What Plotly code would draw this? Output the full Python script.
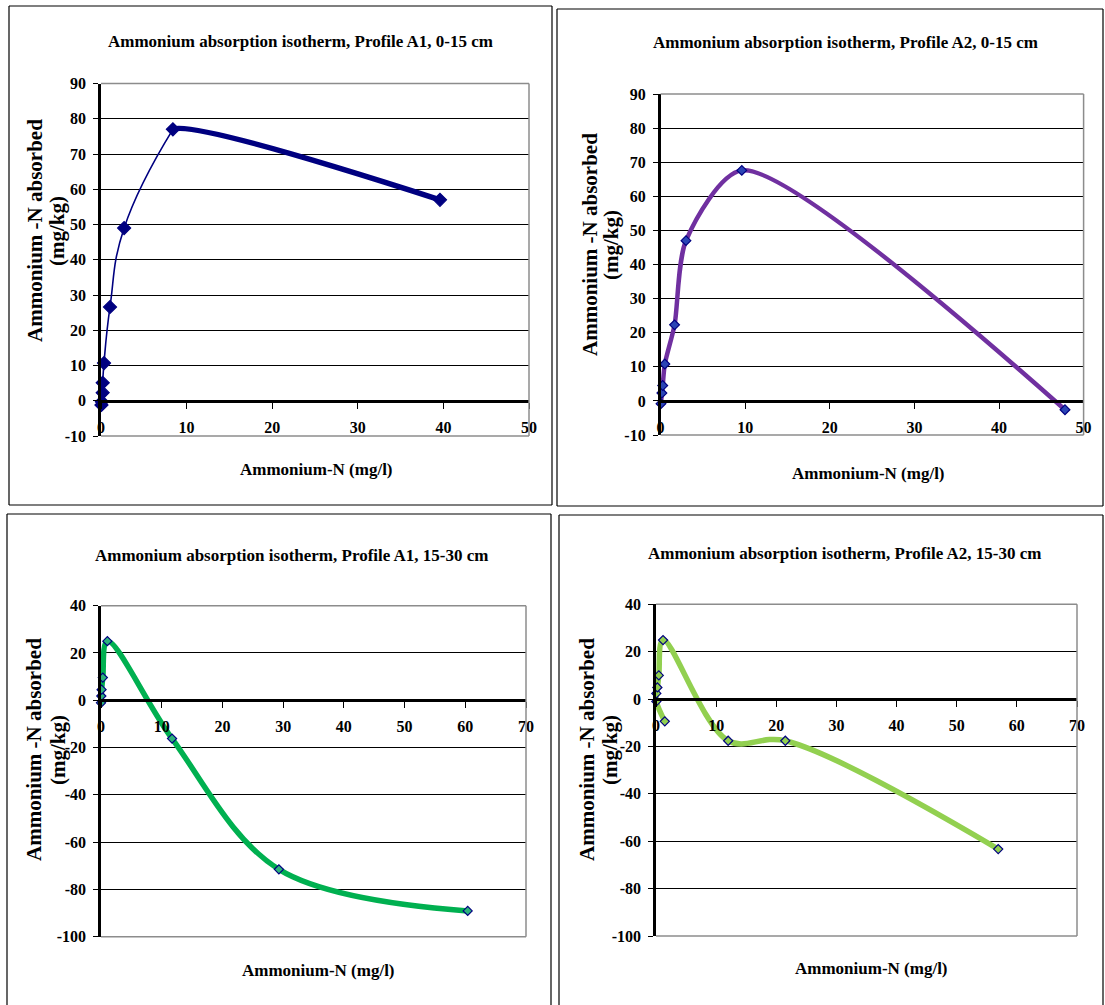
import plotly.graph_objects as go

# ---------------- data ----------------
a1_top_x = [0.05, 0.1, 0.2, 0.2, 0.35, 1.05, 2.7, 8.4, 39.6]
a1_top_y = [-1.2, -0.3, 2.3, 5.1, 10.7, 26.6, 49.0, 77.0, 57.0]

a2_top_x = [0.05, 0.15, 0.25, 0.5, 1.65, 3.0, 9.6, 47.8]
a2_top_y = [-0.8, 2.3, 4.5, 10.8, 22.3, 47.0, 67.6, -2.6]

a1_sub_x = [0.0, 0.05, 0.1, 0.3, 1.05, 11.7, 29.3, 60.4]
a1_sub_y = [-1.1, 1.8, 4.5, 9.6, 25.0, -16.2, -71.5, -89.1]

a2_sub_x = [1.46, 0.06, 0.06, 0.23, 0.47, 1.17, 12.0, 21.5, 56.9]
a2_sub_y = [-9.4, -1.0, 2.4, 4.9, 10.0, 24.9, -17.6, -17.6, -63.3]

titles = [
    "Ammonium absorption isotherm, Profile A1, 0-15 cm",
    "Ammonium absorption isotherm, Profile A2, 0-15 cm",
    "Ammonium absorption isotherm, Profile A1, 15-30 cm",
    "Ammonium absorption isotherm, Profile A2, 15-30 cm",
]
x_title = "Ammonium-N (mg/l)"
y_title_1 = "Ammonium -N absorbed"
y_title_2 = "(mg/kg)"

x_ticks_50 = [0, 10, 20, 30, 40, 50]
x_ticks_70 = [0, 10, 20, 30, 40, 50, 60, 70]
y_ticks_top = [-10, 0, 10, 20, 30, 40, 50, 60, 70, 80, 90]
y_ticks_sub = [-100, -80, -60, -40, -20, 0, 20, 40]

# ---------------- layout helpers ----------------
W, H = 1105, 1005
FONT = "Liberation Serif, Times New Roman, serif"


def px(x):
    return x / W


def py(y):
    return 1 - y / H


panels = [
    dict(x=a1_top_x, y=a1_top_y, split=7, line="#000080", mfill="#000080", mline="#000080",
         msize=10, lw=1.6, lw2=5.5, sm=1.3, sm2=0.4,
         L=101, R=529, T=83.5, B=436, xr=[0, 50], yr=[-10, 90], xt_vals=x_ticks_50, yt_vals=y_ticks_top,
         title=(300, 42), xt=(316, 469), yt1=(35, 231), yt2=(57, 231)),
    dict(x=a2_top_x, y=a2_top_y, split=None, line="#7030A0", mfill="#2B45B5", mline="#000080",
         msize=7.5, lw=4.5, sm=0.75,
         L=660.6, R=1083.6, T=94, B=435, xr=[0, 50], yr=[-10, 90], xt_vals=x_ticks_50, yt_vals=y_ticks_top,
         title=(846, 43), xt=(868, 473), yt1=(590, 245), yt2=(611, 245)),
    dict(x=a1_sub_x, y=a1_sub_y, split=None, line="#00B050", mfill="#2DB37A", mline="#000080",
         msize=7, lw=5.5, sm=1.0,
         L=101, R=526, T=605.7, B=936.7, xr=[0, 70], yr=[-100, 40], xt_vals=x_ticks_70, yt_vals=y_ticks_sub,
         title=(292, 555), xt=(319, 970), yt1=(34, 750), yt2=(58, 750)),
    dict(x=a2_sub_x, y=a2_sub_y, split=None, line="#92D050", mfill="#92D050", mline="#000080",
         msize=7, lw=5.5, sm=1.0,
         L=656, R=1077, T=604.3, B=936, xr=[0, 70], yr=[-100, 40], xt_vals=x_ticks_70, yt_vals=y_ticks_sub,
         title=(845, 553), xt=(871, 968), yt1=(587, 750), yt2=(610, 750)),
]

# panel frames as line segments (x0, y0, x1, y1) in pixels
frame_lines = [
    (9, 6, 552, 6), (9, 6, 9, 505), (552, 6, 552, 505), (9, 505, 552, 505),
    (557, 9, 1103, 9), (557, 9, 557, 506), (1103, 9, 1103, 506), (557, 506, 1103, 506),
    (7, 514, 551, 514), (7, 514, 7, 1005), (551, 514, 551, 1005),
    (559, 515, 1103, 515), (559, 515, 559, 1005), (1103, 515, 1103, 1005),
]

fig = go.Figure()
layout = dict(
    width=W, height=H, margin=dict(l=0, r=0, t=0, b=0, pad=0, autoexpand=False),
    paper_bgcolor="white", plot_bgcolor="rgba(0,0,0,0)", showlegend=False,
    font=dict(family=FONT, color="black"),
)
shapes = []
annotations = []

tickfont = dict(family=FONT, size=16, color="black", weight="bold")


def marker_trace(xs, ys, p, xa, ya):
    return go.Scatter(x=xs, y=ys, mode="markers",
                      marker=dict(symbol="diamond", size=p["msize"], color=p["mfill"],
                                  line=dict(color=p["mline"], width=1.2)),
                      xaxis=xa, yaxis=ya, cliponaxis=False, hoverinfo="skip")


n_extra = len(panels)
for i, p in enumerate(panels, start=1):
    xname = "x" if i == 1 else f"x{i}"
    yname = "y" if i == 1 else f"y{i}"
    xkey = "xaxis" if i == 1 else f"xaxis{i}"
    ykey = "yaxis" if i == 1 else f"yaxis{i}"

    yd0, yd1 = py(p["B"]), py(p["T"])
    ymin, ymax = p["yr"]
    zero_pos = yd0 + (0 - ymin) / (ymax - ymin) * (yd1 - yd0)

    layout[xkey] = dict(
        domain=[px(p["L"]), px(p["R"])], range=p["xr"], anchor="free", position=zero_pos,
        showline=True, linecolor="black", linewidth=2.5,
        ticks="outside", ticklen=6, tickwidth=1, tickcolor="black",
        tickvals=p["xt_vals"], ticktext=[str(v) for v in p["xt_vals"]],
        showgrid=False, zeroline=False, automargin=False,
        tickfont=tickfont, ticklabelstandoff=5, fixedrange=True,
    )
    layout[ykey] = dict(
        domain=[yd0, yd1], range=p["yr"], anchor=xname,
        showline=True, linecolor="black", linewidth=2.5,
        ticks="outside", ticklen=5, tickwidth=1, tickcolor="black",
        tickvals=p["yt_vals"], ticktext=[str(v) for v in p["yt_vals"]],
        showgrid=True, gridcolor="black", gridwidth=1, automargin=False,
        zeroline=False, tickfont=tickfont, ticklabelstandoff=4, fixedrange=True,
    )

    if p["split"] is not None:
        s = p["split"]
        # thin part
        fig.add_trace(go.Scatter(x=p["x"][: s + 1], y=p["y"][: s + 1], mode="lines",
                                 line=dict(color=p["line"], width=p["lw"], shape="spline", smoothing=p["sm"]),
                                 xaxis=xname, yaxis=yname, hoverinfo="skip"))
        fig.add_trace(marker_trace(p["x"][:s], p["y"][:s], p, xname, yname))
        # thick part: helper subplot with the same scale, clipped at the split point
        n_extra += 1
        hx, hy = f"x{n_extra}", f"y{n_extra}"
        xmin, xmax = p["xr"]
        split_px = p["L"] + (p["x"][s] - xmin) / (xmax - xmin) * (p["R"] - p["L"])
        layout[f"xaxis{n_extra}"] = dict(domain=[px(split_px), px(p["R"])], range=[p["x"][s], xmax],
                                         anchor=hy, visible=False, fixedrange=True, automargin=False)
        layout[f"yaxis{n_extra}"] = dict(domain=[yd0, yd1], range=p["yr"], anchor=hx,
                                         visible=False, fixedrange=True, automargin=False)
        fig.add_trace(go.Scatter(x=p["x"][s - 1:], y=p["y"][s - 1:], mode="lines",
                                 line=dict(color=p["line"], width=p["lw2"], shape="spline", smoothing=p["sm2"]),
                                 xaxis=hx, yaxis=hy, hoverinfo="skip"))
        fig.add_trace(marker_trace(p["x"][s:], p["y"][s:], p, hx, hy))
    else:
        fig.add_trace(go.Scatter(x=p["x"], y=p["y"], mode="lines",
                                 line=dict(color=p["line"], width=p["lw"], shape="spline", smoothing=p["sm"]),
                                 xaxis=xname, yaxis=yname, hoverinfo="skip"))
        fig.add_trace(marker_trace(p["x"], p["y"], p, xname, yname))

    # grey plot-area border (top, right, bottom)
    for (x0, y0, x1, y1) in [(0, 1, 1, 1), (1, 0, 1, 1), (0, 0, 1, 0)]:
        shapes.append(dict(type="line", xref=f"{xname} domain", yref=f"{yname} domain",
                           x0=x0, y0=y0, x1=x1, y1=y1, line=dict(color="#8c8c8c", width=1.5),
                           layer="above"))

    # texts
    annotations.append(dict(text=titles[i - 1], xref="paper", yref="paper",
                            x=px(p["title"][0]), y=py(p["title"][1]), xanchor="center", yanchor="middle",
                            showarrow=False, font=dict(family=FONT, size=17, color="black", weight="bold")))
    annotations.append(dict(text=x_title, xref="paper", yref="paper",
                            x=px(p["xt"][0]), y=py(p["xt"][1]), xanchor="center", yanchor="middle",
                            showarrow=False, font=dict(family=FONT, size=17, color="black", weight="bold")))
    annotations.append(dict(text=y_title_1, xref="paper", yref="paper", textangle=-90,
                            x=px(p["yt1"][0]), y=py(p["yt1"][1]), xanchor="center", yanchor="middle",
                            showarrow=False, font=dict(family=FONT, size=21, color="black", weight="bold")))
    annotations.append(dict(text=y_title_2, xref="paper", yref="paper", textangle=-90,
                            x=px(p["yt2"][0]), y=py(p["yt2"][1]), xanchor="center", yanchor="middle",
                            showarrow=False, font=dict(family=FONT, size=21, color="black", weight="bold")))

# panel frames
for (x0, y0, x1, y1) in frame_lines:
    shapes.append(dict(type="line", xref="paper", yref="paper",
                       x0=px(x0), x1=px(x1), y0=py(y0), y1=py(y1),
                       line=dict(color="black", width=1.2), layer="above"))

layout["shapes"] = shapes
layout["annotations"] = annotations
fig.update_layout(**layout)

fig.write_html("out.html", config={"displayModeBar": False},
               post_script="document.body.style.margin='0';document.body.style.overflow='hidden';")
